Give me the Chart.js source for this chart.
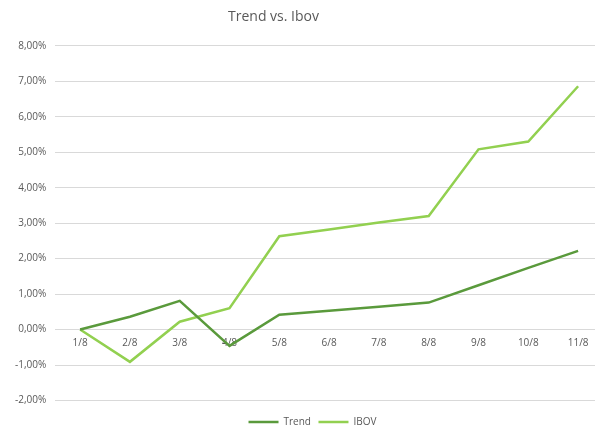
<!DOCTYPE html>
<html>
<head>
<meta charset="utf-8">
<title>Trend vs. Ibov</title>
<script src="https://cdn.jsdelivr.net/npm/chart.js@4.4.0/dist/chart.umd.min.js"></script>
<style>
  body { margin: 0; background: #fff; }
  #wrap { width: 595px; height: 428px; overflow: hidden; }
</style>
</head>
<body>
<!-- plot area runs a little past the right edge, like the original -->
<div id="wrap"><canvas id="chart" width="603" height="428"></canvas></div>
<script>
// values in percent
const days = ['1/8', '2/8', '3/8', '4/8', '5/8', '6/8', '7/8', '8/8', '9/8', '10/8', '11/8'];
const trend = [0, 0.36, 0.81, -0.46, 0.42, 0.53, 0.64, 0.76, 1.25, 1.74, 2.22];
const ibov = [0, -0.91, 0.22, 0.6, 2.63, 2.82, 3.02, 3.2, 5.08, 5.3, 6.86];

const textColor = '#595959';
const gridColor = '#d9d9d9';

// title and legend are not centred on the visible area in the original
const shiftBlocks = {
  id: 'shiftBlocks',
  afterLayout(chart) {
    chart.titleBlock.left -= 31;
    chart.titleBlock.right -= 31;
    chart.legend.left += 8;
    chart.legend.right += 8;
    chart.legend.top += 9;
    chart.legend.bottom += 9;
  }
};

const ctx = document.getElementById('chart').getContext('2d');

new Chart(ctx, {
  type: 'line',
  data: {
    labels: days,
    datasets: [
      {
        label: 'Trend',
        data: trend,
        borderColor: '#5a9a3c',
        backgroundColor: '#5a9a3c',
        borderWidth: 2.5,
        pointRadius: 0,
        tension: 0
      },
      {
        label: 'IBOV',
        data: ibov,
        borderColor: '#92d050',
        backgroundColor: '#92d050',
        borderWidth: 2.5,
        pointRadius: 0,
        tension: 0
      }
    ]
  },
  options: {
    responsive: false,
    animation: false,
    layout: { padding: { left: 6, right: 0, top: 2, bottom: 0 } },
    plugins: {
      title: {
        display: true,
        text: 'Trend vs. Ibov',
        color: textColor,
        font: { family: 'Open Sans', size: 14, weight: 'normal' },
        padding: { top: 7, bottom: 20 }
      },
      legend: {
        position: 'bottom',
        labels: {
          color: textColor,
          font: { family: 'Open Sans', size: 10 },
          usePointStyle: true,
          pointStyle: 'line',
          pointStyleWidth: 30,
          boxWidth: 30,
          padding: 7.5
        }
      },
      tooltip: { enabled: false }
    },
    scales: {
      x: {
        position: { y: 0 },
        offset: true,
        grid: { display: false },
        border: { display: false },
        ticks: {
          color: textColor,
          font: { family: 'Open Sans', size: 10 },
          padding: 0,
          maxRotation: 0
        }
      },
      y: {
        min: -2,
        max: 8,
        grid: { color: gridColor, drawTicks: false },
        border: { display: false },
        ticks: {
          stepSize: 1,
          color: textColor,
          font: { family: 'Open Sans', size: 10 },
          padding: 9,
          callback: function(value) {
            return value.toFixed(2).replace('.', ',') + '%';
          }
        }
      }
    }
  },
  plugins: [shiftBlocks]
});
</script>
</body>
</html>
